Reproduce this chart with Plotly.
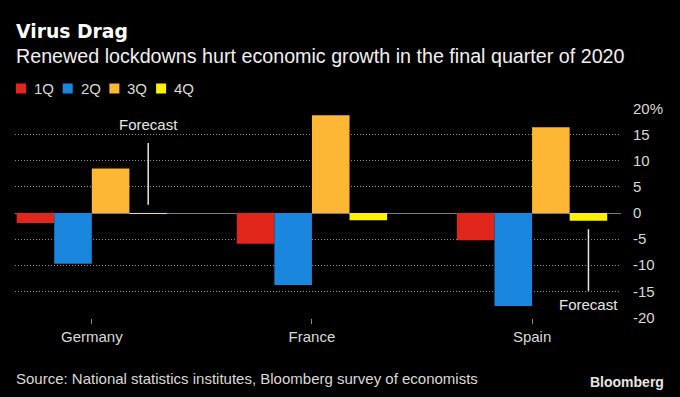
import plotly.graph_objects as go

countries = ["Germany", "France", "Spain"]
quarters = ["1Q", "2Q", "3Q", "4Q"]
q1 = [-1.9, -5.9, -5.2]
q2 = [-9.7, -13.8, -17.8]
q3 = [8.5, 18.7, 16.4]
q4 = [-0.1, -1.4, -1.5]
series = [q1, q2, q3, q4]
colors = ["#e1261c", "#1a86dd", "#fdb735", "#fff200"]
y_ticks = [-20, -15, -10, -5, 0, 5, 10, 15, 20]
y_ticktext = ["-20", "-15", "-10", "-5", "0", "5", "10", "15", "20%"]

FONT = "Liberation Sans, Arial, sans-serif"
BARGAP = 0.317

fig = go.Figure()
for name, vals, col in zip(quarters, series, colors):
    fig.add_trace(go.Bar(x=countries, y=vals, name=name, showlegend=False,
                         marker=dict(color=col, line=dict(width=0))))

W, H = 680, 397
ml, mr, mt, mb = 15, 59, 108, 79
PW = W - ml - mr
PH = H - mt - mb

def px_(pix):
    return (pix - ml) / PW

def py(pix):
    return (H - mb - pix) / PH

fig.update_layout(
    width=W, height=H,
    paper_bgcolor="#000000", plot_bgcolor="#000000",
    margin=dict(l=ml, r=mr, t=mt, b=mb, pad=0, autoexpand=False),
    barmode="group", bargap=BARGAP, bargroupgap=0,
    font=dict(family=FONT, size=15, color="#d9d9d9"),
    showlegend=False,
    xaxis=dict(range=[-0.349, 2.404], showgrid=False, zeroline=False, showline=False,
               automargin=False,
               ticks="outside", ticklen=5, tickcolor="#888888", tickwidth=1,
               tickfont=dict(size=15, color="#d9d9d9"), fixedrange=True),
    yaxis=dict(side="right", range=[-20.1, 20.1], tickvals=y_ticks, ticktext=y_ticktext,
               automargin=False,
               showgrid=True, gridcolor="#8c8c8c", griddash="1px,2px", gridwidth=1,
               zeroline=True, zerolinecolor="#7a7a7a", zerolinewidth=1,
               showline=False, ticks="", ticklabelstandoff=11,
               tickfont=dict(size=15, color="#d9d9d9"), fixedrange=True),
)

# legend drawn as swatches + labels
for i, (name, col) in enumerate(zip(quarters, colors)):
    x0 = 16 + i * 46.7
    fig.add_shape(type="rect", xref="paper", yref="paper",
                  x0=px_(x0), x1=px_(x0 + 10), y0=py(93.5), y1=py(83.5),
                  fillcolor=col, line=dict(width=0))
    fig.add_annotation(text=name, xref="paper", yref="paper", x=px_(x0 + 16), y=py(88.5),
                       xanchor="left", yanchor="middle", showarrow=False,
                       font=dict(family=FONT, size=15, color="#d9d9d9"))

fig.add_annotation(text="<b>Virus Drag</b>", xref="paper", yref="paper", x=px_(14), y=py(32),
                   xanchor="left", yanchor="middle", showarrow=False,
                   font=dict(family="DejaVu Sans, sans-serif", size=18.8, color="#ffffff"))
fig.add_annotation(text="Renewed lockdowns hurt economic growth in the final quarter of 2020",
                   xref="paper", yref="paper", x=px_(14), y=py(56), xanchor="left", yanchor="middle",
                   showarrow=False, font=dict(family=FONT, size=19.7, color="#f0f0f0"))
fig.add_annotation(text="Source: National statistics institutes, Bloomberg survey of economists",
                   xref="paper", yref="paper", x=px_(14), y=py(378), xanchor="left", yanchor="middle",
                   showarrow=False, font=dict(family=FONT, size=15, color="#d9d9d9"))
fig.add_annotation(text="<b>Bloomberg</b>", xref="paper", yref="paper", x=px_(666),
                   y=py(382), xanchor="right", yanchor="middle", showarrow=False,
                   font=dict(family=FONT, size=14, color="#e6e6e6"))

# forecast markers located at the 4Q bar of a group
off4 = 3 / 8 * (1 - BARGAP)
fc = [(0, 13.4, 1.6, 17.0), (2, -3.1, -14.9, -17.6)]
for idx, y0, y1, ty in fc:
    xx = idx + off4
    fig.add_shape(type="line", xref="x", yref="y", x0=xx, x1=xx, y0=y0, y1=y1,
                  line=dict(color="#e6e6e6", width=1.5))
    fig.add_annotation(text="Forecast", xref="x", yref="y", x=xx, y=ty, showarrow=False,
                       xanchor="center", yanchor="middle", font=dict(size=15, color="#e6e6e6"))

fig.write_html("out.html", config={"displayModeBar": False},
               post_script="document.body.style.margin='0';document.body.style.overflow='hidden';")
